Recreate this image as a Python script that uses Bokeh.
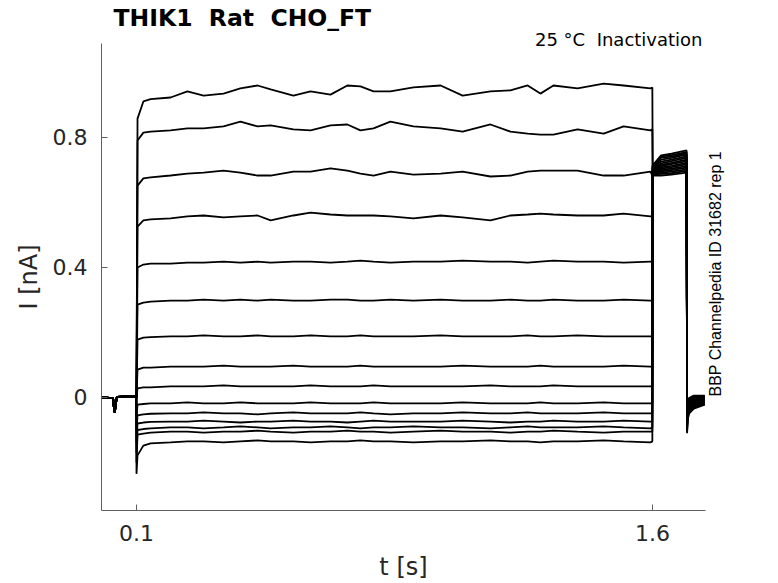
import math
from bokeh.plotting import figure
from bokeh.models import Range1d, FixedTicker, Title, LinearAxis, ColumnDataSource
from bokeh.embed import file_html
from bokeh.resources import INLINE

# ---------------- data ----------------
# holding period before the step (shared baseline of all sweeps)
t_pre = [0.0, 0.032, 0.035, 0.037, 0.040, 0.043, 0.0995]
i_pre = [0.0, -0.002, -0.040, -0.046, -0.020, 0.002, 0.004]

# step period 0.1 s .. 1.6 s
t_step = [0.103, 0.120, 0.141, 0.199, 0.248, 0.295, 0.353, 0.402, 0.452, 0.490,
          0.556, 0.606, 0.664, 0.713, 0.751, 0.789, 0.838, 0.905, 0.984, 1.048,
          1.129, 1.187, 1.237, 1.274, 1.312, 1.382, 1.458, 1.516, 1.594, 1.5995]

sweep_01 = [0.858, 0.911, 0.918, 0.923, 0.942, 0.929, 0.935, 0.951, 0.960, 0.948,
            0.929, 0.942, 0.932, 0.960, 0.957, 0.942, 0.942, 0.954, 0.960, 0.929,
            0.942, 0.945, 0.960, 0.935, 0.960, 0.951, 0.966, 0.960, 0.951, 0.954]
sweep_02 = [0.791, 0.815, 0.818, 0.822, 0.828, 0.828, 0.834, 0.849, 0.834, 0.837,
            0.825, 0.822, 0.837, 0.840, 0.822, 0.828, 0.849, 0.834, 0.828, 0.818,
            0.840, 0.818, 0.812, 0.809, 0.809, 0.825, 0.812, 0.834, 0.822, 0.825]
sweep_03 = [0.652, 0.674, 0.677, 0.683, 0.689, 0.692, 0.698, 0.692, 0.683, 0.683,
            0.695, 0.695, 0.705, 0.698, 0.689, 0.683, 0.695, 0.686, 0.689, 0.695,
            0.680, 0.683, 0.695, 0.698, 0.698, 0.698, 0.683, 0.683, 0.695, 0.683]
sweep_04 = [0.526, 0.545, 0.548, 0.551, 0.557, 0.560, 0.554, 0.557, 0.560, 0.545,
            0.560, 0.569, 0.563, 0.560, 0.560, 0.560, 0.557, 0.551, 0.560, 0.554,
            0.545, 0.560, 0.563, 0.566, 0.563, 0.560, 0.560, 0.566, 0.557, 0.560]
sweep_05 = [0.400, 0.409, 0.412, 0.412, 0.415, 0.415, 0.418, 0.415, 0.418, 0.415,
            0.418, 0.418, 0.415, 0.418, 0.421, 0.418, 0.415, 0.418, 0.418, 0.421,
            0.418, 0.418, 0.415, 0.418, 0.421, 0.418, 0.418, 0.415, 0.418, 0.418]
sweep_06 = [0.286, 0.292, 0.295, 0.298, 0.298, 0.301, 0.298, 0.301, 0.298, 0.301,
            0.298, 0.298, 0.301, 0.301, 0.298, 0.298, 0.301, 0.298, 0.301, 0.298,
            0.298, 0.301, 0.298, 0.298, 0.301, 0.298, 0.298, 0.301, 0.298, 0.298]
sweep_07 = [0.178, 0.184, 0.186, 0.188, 0.188, 0.191, 0.188, 0.188, 0.191, 0.188,
            0.188, 0.191, 0.188, 0.188, 0.191, 0.188, 0.188, 0.188, 0.191, 0.188,
            0.188, 0.188, 0.191, 0.188, 0.188, 0.191, 0.188, 0.188, 0.188, 0.188]
sweep_08 = [0.086, 0.092, 0.092, 0.095, 0.095, 0.095, 0.098, 0.095, 0.095, 0.095,
            0.098, 0.095, 0.095, 0.095, 0.098, 0.095, 0.095, 0.095, 0.095, 0.098,
            0.095, 0.095, 0.095, 0.098, 0.095, 0.095, 0.095, 0.098, 0.095, 0.095]
sweep_09 = [0.028, 0.031, 0.031, 0.034, 0.034, 0.034, 0.037, 0.034, 0.034, 0.034,
            0.034, 0.037, 0.034, 0.034, 0.034, 0.037, 0.034, 0.034, 0.034, 0.034,
            0.037, 0.034, 0.034, 0.034, 0.037, 0.034, 0.034, 0.034, 0.034, 0.034]
sweep_10 = [-0.022, -0.020, -0.018, -0.018, -0.015, -0.018, -0.018, -0.015, -0.018, -0.018,
            -0.018, -0.015, -0.018, -0.018, -0.018, -0.015, -0.018, -0.018, -0.018, -0.015,
            -0.018, -0.018, -0.018, -0.015, -0.018, -0.018, -0.015, -0.018, -0.018, -0.018]
sweep_11 = [-0.055, -0.052, -0.050, -0.049, -0.049, -0.046, -0.049, -0.049, -0.052, -0.049,
            -0.046, -0.049, -0.049, -0.049, -0.046, -0.049, -0.052, -0.049, -0.049, -0.046,
            -0.049, -0.049, -0.046, -0.049, -0.049, -0.049, -0.046, -0.049, -0.049, -0.049]
sweep_12 = [-0.080, -0.077, -0.075, -0.074, -0.074, -0.071, -0.074, -0.077, -0.074, -0.074,
            -0.071, -0.074, -0.074, -0.077, -0.074, -0.071, -0.074, -0.074, -0.074, -0.071,
            -0.074, -0.077, -0.074, -0.074, -0.071, -0.074, -0.074, -0.071, -0.074, -0.074]
sweep_13 = [-0.100, -0.097, -0.095, -0.092, -0.092, -0.095, -0.092, -0.089, -0.092, -0.095,
            -0.092, -0.092, -0.089, -0.092, -0.095, -0.092, -0.092, -0.089, -0.092, -0.092,
            -0.095, -0.092, -0.089, -0.092, -0.092, -0.092, -0.089, -0.092, -0.095, -0.092]
sweep_14 = [-0.114, -0.111, -0.108, -0.105, -0.105, -0.108, -0.105, -0.105, -0.102, -0.105,
            -0.108, -0.105, -0.105, -0.102, -0.105, -0.105, -0.108, -0.105, -0.102, -0.105,
            -0.105, -0.108, -0.105, -0.105, -0.102, -0.105, -0.108, -0.105, -0.105, -0.105]
sweep_15 = [-0.178, -0.148, -0.141, -0.138, -0.135, -0.135, -0.138, -0.135, -0.132, -0.135,
            -0.135, -0.138, -0.135, -0.135, -0.132, -0.135, -0.135, -0.138, -0.135, -0.135,
            -0.132, -0.135, -0.135, -0.138, -0.135, -0.135, -0.132, -0.135, -0.138, -0.135]

# capacitive transient at the step onset (value at t = 0.1 s), per sweep
onset_dip = [0.0, 0.0, 0.0, 0.0, 0.0, 0.0, 0.0, 0.0, 0.0,
             -0.060, -0.100, -0.140, -0.170, -0.200, -0.235]

# tail period 1.6 s .. 1.7 s
t_tail = [1.6005, 1.625, 1.655, 1.699]
tail_a = [0.683, 0.686, 0.688, 0.690, 0.693, 0.695, 0.698, 0.700, 0.703, 0.705, 0.707, 0.709, 0.711, 0.712, 0.714]
tail_b = [0.683, 0.688, 0.692, 0.696, 0.700, 0.704, 0.708, 0.712, 0.716, 0.720, 0.726, 0.732, 0.738, 0.742, 0.745]
tail_c = [0.686, 0.690, 0.695, 0.700, 0.704, 0.709, 0.713, 0.718, 0.722, 0.727, 0.732, 0.737, 0.741, 0.746, 0.750]
tail_d = [0.692, 0.697, 0.702, 0.707, 0.712, 0.717, 0.722, 0.727, 0.732, 0.737, 0.742, 0.747, 0.751, 0.755, 0.760]

# after the tail (1.7 s .. end)
t_post = [1.7005, 1.702, 1.706, 1.72, 1.752]
post_a = [-0.110, -0.105, -0.100, -0.095, -0.090, -0.085, -0.080, -0.075, -0.070, -0.066, -0.062, -0.058, -0.055, -0.052, -0.050]
post_b = [-0.070, -0.066, -0.062, -0.058, -0.054, -0.050, -0.046, -0.042, -0.038, -0.034, -0.030, -0.026, -0.022, -0.018, -0.015]
post_c = [-0.050, -0.046, -0.043, -0.040, -0.036, -0.033, -0.030, -0.026, -0.023, -0.020, -0.016, -0.013, -0.010, -0.006, -0.002]
post_d = [-0.034, -0.031, -0.028, -0.025, -0.022, -0.019, -0.016, -0.013, -0.010, -0.007, -0.004, -0.001, 0.002, 0.004, 0.006]
post_e = [-0.022, -0.020, -0.018, -0.016, -0.014, -0.012, -0.010, -0.008, -0.006, -0.004, -0.002, 0.000, 0.002, 0.004, 0.006]

x_ticks = [0.1, 1.6]
x_tick_labels = ["0.1", "1.6"]
y_ticks = [0.0, 0.4, 0.8]
y_tick_labels = ["0", "0.4", "0.8"]

# double gaps kept visible with a no-break space
title_text = "THIK1\u00a0 Rat\u00a0 CHO_FT"
subtitle_text = "25 °C\u00a0 Inactivation"
side_text = "BBP Channelpedia ID 31682 rep 1"
side_text_start = 0.003   # current level where the vertical note begins (its bottom end)
x_label = "t [s]"
y_label = "I [nA]"

# ---------------- build traces ----------------
sweeps = [sweep_01, sweep_02, sweep_03, sweep_04, sweep_05, sweep_06, sweep_07, sweep_08,
          sweep_09, sweep_10, sweep_11, sweep_12, sweep_13, sweep_14, sweep_15]
xs, ys = [], []
for k, sw in enumerate(sweeps):
    tx = list(t_pre) + [0.1] + list(t_step) + list(t_tail) + list(t_post)
    iy = (list(i_pre) + [onset_dip[k]] + list(sw) +
          [tail_a[k], tail_b[k], tail_c[k], tail_d[k]] +
          [post_a[k], post_b[k], post_c[k], post_d[k], post_e[k]])
    xs.append(tx)
    ys.append(iy)
src = ColumnDataSource(dict(xs=xs, ys=ys))

# ---------------- figure ----------------
FONT = "DejaVu Sans"
TXT = "#262626"
AX = "#606060"
p = figure(width=778, height=583, output_backend="svg", toolbar_location=None, title=None,
           x_range=Range1d(-0.0017, 1.754), y_range=Range1d(-0.3477, 1.0892),
           min_border_left=101, min_border_right=73, min_border_top=43, min_border_bottom=73)
p.outline_line_color = None
p.xgrid.visible = False
p.ygrid.visible = False
p.background_fill_color = "white"
p.border_fill_color = "white"

p.multi_line(xs="xs", ys="ys", source=src, line_color="black", line_width=1.8)

for ax in (p.xaxis[0], p.yaxis[0]):
    ax.axis_line_color = AX
    ax.major_tick_line_color = AX
    ax.major_tick_in = 6
    ax.major_tick_out = 0
    ax.minor_tick_line_color = None
    ax.major_label_text_font = FONT
    ax.major_label_text_font_size = "22px"
    ax.major_label_text_color = TXT
    ax.axis_label_text_font = FONT
    ax.axis_label_text_font_size = "24px"
    ax.axis_label_text_font_style = "normal"
    ax.axis_label_text_color = TXT

p.xaxis.ticker = FixedTicker(ticks=x_ticks)
p.xaxis.major_label_overrides = {v: s for v, s in zip(x_ticks, x_tick_labels)}
p.xaxis.major_label_standoff = 14
p.xaxis.axis_label = x_label
p.xaxis.axis_label_standoff = 9

p.yaxis.ticker = FixedTicker(ticks=y_ticks)
p.yaxis.major_label_overrides = {v: s for v, s in zip(y_ticks, y_tick_labels)}
p.yaxis.major_label_standoff = 14
p.yaxis.axis_label = y_label
p.yaxis.axis_label_standoff = 7

# vertical side note, placed as the single label of an otherwise invisible right axis
side = LinearAxis(ticker=FixedTicker(ticks=[side_text_start]),
                  major_label_overrides={side_text_start: side_text},
                  major_label_orientation=math.pi / 2,
                  major_label_text_font="Liberation Sans",
                  major_label_text_font_size="16px",
                  major_label_text_color="black",
                  major_label_standoff=4,
                  axis_line_color=None, major_tick_line_color=None,
                  minor_tick_line_color=None)
p.add_layout(side, "right")

# titles: first added sits nearest the frame
p.add_layout(Title(text=subtitle_text, align="right", offset=3, standoff=-12,
                   text_font=FONT, text_font_size="18px", text_font_style="normal",
                   text_color="black"), "above")
p.add_layout(Title(text=title_text, align="left", offset=12, standoff=2,
                   text_font=FONT, text_font_size="23.5px", text_font_style="bold",
                   text_color="black"), "above")

open("out.html", "w").write(file_html(p, INLINE))
